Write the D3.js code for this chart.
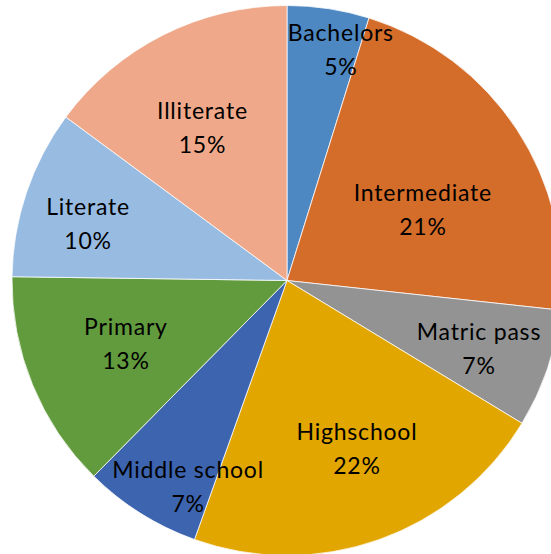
<!doctype html>
<html>
  <head>
    <script src="https://cdnjs.cloudflare.com/ajax/libs/d3/7.8.5/d3.min.js"></script>
    <style>
      body { margin: 0; background: #fff; }
      .label { font-family: Lato, "Open Sans", sans-serif; font-size: 23px; letter-spacing: 0.8px; fill: #000; }
    </style>
  </head>
  <body>
    <svg id="chart" width="551" height="554"></svg>
    <script>
      // education levels, clockwise from 12 o'clock
      var categories = ["Bachelors", "Intermediate", "Matric pass", "Highschool",
                        "Middle school", "Primary", "Literate", "Illiterate"];
      // share of respondents (%)
      var values = [4.82, 21.9, 6.97, 21.77, 6.94, 12.82, 9.91, 14.87];
      // percent labels as printed on the chart
      var percentLabels = ["5%", "21%", "7%", "22%", "7%", "13%", "10%", "15%"];

      var colors = ["#4e88c2", "#d46d2a", "#939393", "#e2a600",
                    "#3d64ae", "#629a3e", "#98bbe2", "#efa98a"];
      // best-fit label placement: fraction of radius, and nudge off the mid angle (deg)
      var labelRadius = [0.834, 0.544, 0.751, 0.690, 0.859, 0.641, 0.745, 0.610];
      var labelNudge  = [4.9, 8.5, 2.9, -2.1, -7.4, -1.7, -4.8, -3.5];

      var cx = 287, cy = 280.5, R = 275;

      var svg = d3.select("#chart");
      var g = svg.append("g").attr("transform", `translate(${cx},${cy})`);

      var pie = d3.pie().sort(null).value(d => d);
      var arcs = pie(values);
      var arc = d3.arc().innerRadius(0).outerRadius(R);

      g.selectAll("path.slice")
        .data(arcs)
        .enter()
        .append("path")
          .attr("class", "slice")
          .attr("d", arc)
          .style("fill", (d, i) => colors[i])
          .style("stroke", "#fff")
          .style("stroke-width", 0.75);

      var labels = g.selectAll("text.label")
        .data(arcs)
        .enter()
        .append("text")
          .attr("class", "label")
          .attr("text-anchor", "middle")
          .attr("transform", (d, i) => {
            var a = (d.startAngle + d.endAngle) / 2 + labelNudge[i] * Math.PI / 180;
            var r = R * labelRadius[i];
            return `translate(${Math.sin(a) * r},${-Math.cos(a) * r})`;
          });

      labels.append("tspan")
          .attr("x", 0)
          .attr("y", -17)
          .text((d, i) => categories[i]);
      labels.append("tspan")
          .attr("x", 0)
          .attr("y", 17)
          .text((d, i) => percentLabels[i]);
    </script>
  </body>
</html>
